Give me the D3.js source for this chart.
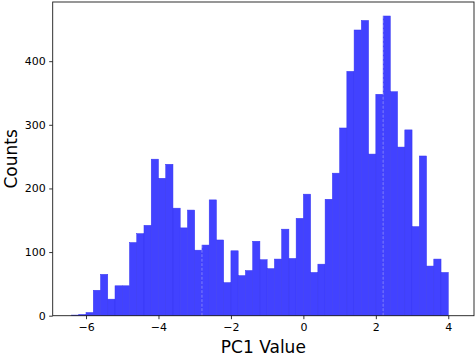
<!DOCTYPE html>
<html>
<head>
<meta charset="utf-8">
<script src="https://cdn.jsdelivr.net/npm/d3@7"></script>
<style>
  body { margin: 0; background: #fff; }
  svg { display: block; font-family: "DejaVu Sans", sans-serif; }
</style>
</head>
<body>
<div class="visholder"></div>
<script>
// left edge of each bin (bin width 0.2)
const binStarts = [-6.4, -6.2, -6.0, -5.8, -5.6, -5.4, -5.2, -5.0, -4.8, -4.6,
                   -4.4, -4.2, -4.0, -3.8, -3.6, -3.4, -3.2, -3.0, -2.8, -2.6,
                   -2.4, -2.2, -2.0, -1.8, -1.6, -1.4, -1.2, -1.0, -0.8, -0.6,
                   -0.4, -0.2, 0.0, 0.2, 0.4, 0.6, 0.8, 1.0, 1.2, 1.4,
                   1.6, 1.8, 2.0, 2.2, 2.4, 2.6, 2.8, 3.0, 3.2, 3.4,
                   3.6, 3.8];
const counts = [1, 2, 5, 40, 65, 26, 47, 47, 115, 129,
                142, 246, 216, 238, 169, 138, 166, 103, 111, 182,
                119, 52, 102, 63, 71, 117, 88, 74, 89, 136,
                90, 153, 191, 68, 81, 183, 224, 295, 384, 449,
                464, 254, 348, 471, 352, 265, 292, 140, 251, 78,
                89, 68];
const binWidth = 0.2;
const xTicks = [-6, -4, -2, 0, 2, 4];
const yTicks = [0, 100, 200, 300, 400];
const markLines = [-2.8, 2.2];

let width = 476,
    height = 356;
const margin = { left: 52.7, right: 2, top: 2, bottom: 40.3 };

var svg = d3.select(".visholder")
    .append("svg")
    .attr("width", width)
    .attr("height", height);

var x = d3.scaleLinear().domain([-6.92, 4.71]).range([margin.left, width - margin.right]);
var y = d3.scaleLinear().domain([0, 493]).range([height - margin.bottom, margin.top]);

const data = binStarts.map((s, i) => ({ x0: s, x1: s + binWidth, n: counts[i] }));

svg.append("g")
    .selectAll("rect")
    .data(data)
    .enter()
    .append("rect")
    .attr("x", d => x(d.x0))
    .attr("y", d => y(d.n))
    .attr("width", d => x(d.x1) - x(d.x0))
    .attr("height", d => y(0) - y(d.n))
    .attr("fill", "#4242ff")
    .attr("stroke", "#3636f2")
    .attr("stroke-width", 0.5);

// faint dashed markers
svg.append("g")
    .selectAll("line")
    .data(markLines)
    .enter()
    .append("line")
    .attr("x1", d => x(d))
    .attr("x2", d => x(d))
    .attr("y1", y(0))
    .attr("y2", margin.top)
    .attr("stroke", "#ffffff")
    .attr("stroke-opacity", 0.45)
    .attr("stroke-width", 0.8)
    .attr("stroke-dasharray", "3,1.5");

const fmt = d => d < 0 ? "\u2212" + Math.abs(d) : String(d);

var xAxis = svg.append("g")
    .attr("transform", `translate(0,${y(0)})`)
    .call(d3.axisBottom(x).tickValues(xTicks).tickFormat(fmt).tickSize(3.5).tickPadding(4));
var yAxis = svg.append("g")
    .attr("transform", `translate(${margin.left},0)`)
    .call(d3.axisLeft(y).tickValues(yTicks).tickFormat(fmt).tickSize(3.5).tickPadding(3.5));

[xAxis, yAxis].forEach(g => {
    g.select(".domain").remove();
    g.selectAll("text").attr("font-size", 11).attr("font-family", "DejaVu Sans").attr("fill", "#000");
    g.selectAll("line").attr("stroke", "#000").attr("stroke-width", 0.8);
});

// frame
svg.append("rect")
    .attr("x", margin.left)
    .attr("y", margin.top)
    .attr("width", width - margin.right - margin.left)
    .attr("height", y(0) - margin.top)
    .attr("fill", "none")
    .attr("stroke", "#1a1a1a")
    .attr("stroke-width", 0.9);

svg.append("text")
    .attr("x", (margin.left + width - margin.right) / 2)
    .attr("y", 353)
    .attr("text-anchor", "middle")
    .attr("font-size", 17)
    .text("PC1 Value");

svg.append("text")
    .attr("transform", `translate(17,${(margin.top + y(0)) / 2}) rotate(-90)`)
    .attr("text-anchor", "middle")
    .attr("font-size", 17)
    .text("Counts");
</script>
</body>
</html>
